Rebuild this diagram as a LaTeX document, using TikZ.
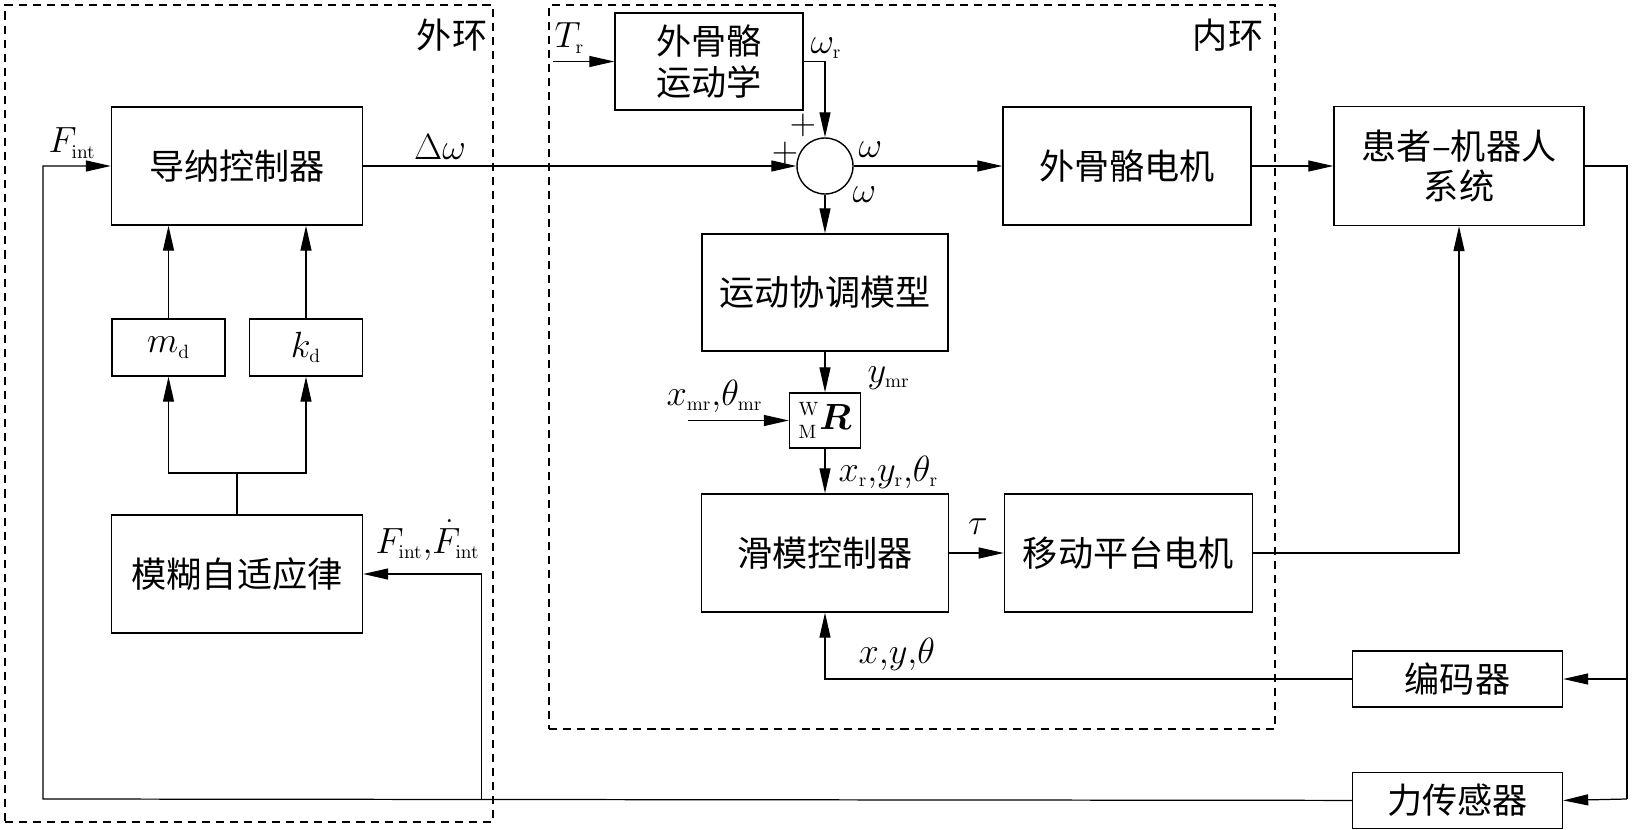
\documentclass[tikz,border=0pt]{standalone}
\usepackage{amsmath}
\usepackage[no-math]{fontspec}
\setmainfont{Noto Sans CJK SC}
\DeclareMathSizes{22}{22}{11}{9}
\usepackage{tikz}
\usetikzlibrary{positioning, arrows.meta}

\begin{document}
\begin{tikzpicture}[
    >={Triangle[length=5mm, width=2.2mm]},
    line width=0.7pt,
    font=\fontsize{20}{23}\selectfont,
    box/.style={rectangle, draw, line width=0.8pt, minimum height=2.36cm, inner sep=0pt, align=center},
    small/.style={rectangle, draw, line width=0.8pt, inner sep=0pt},
    loopbox/.style={rectangle, draw, line width=0.8pt, dash pattern=on 4.6pt off 3.4pt, inner sep=0pt},
    lbl/.style={inner sep=0pt, font=\fontsize{22}{24}\selectfont}
]
    \useasboundingbox (0,0) rectangle (32.68,-16.6);
    % Outer and inner loops
    \node[loopbox, minimum width=9.76cm, minimum height=16.34cm] (outer) at (4.98,-8.27) {};
    \node[loopbox, minimum width=14.52cm, minimum height=14.48cm] (inner) at (18.24,-7.34) {};
    \node (outlbl) at (9.04,-0.70) {外环};
    \node (inlbl) at (24.56,-0.70) {内环};
    % Outer loop blocks
    \node[box, minimum width=5.02cm] (adm) at (4.74,-3.32) {导纳控制器};
    \node[small, minimum width=2.26cm, minimum height=1.14cm, font=\fontsize{22}{24}\selectfont] (md) at (3.37,-6.95) {$m_{\mathrm{d}}$};
    \node[small, minimum width=2.26cm, minimum height=1.14cm, font=\fontsize{22}{24}\selectfont] (kd) at (6.12,-6.95) {$k_{\mathrm{d}}$};
    \node[box, minimum width=5.02cm] (fuzzy) at (4.74,-11.48) {模糊自适应律};
    % Inner loop blocks
    \node[box, minimum width=3.76cm, minimum height=1.94cm] (kin) at (14.18,-1.23) {外骨骼\\运动学};
    \node[circle, draw, line width=0.8pt, minimum size=1.12cm, inner sep=0pt] (sum) at (16.5,-3.32) {};
    \node[box, minimum width=4.96cm] (motor) at (22.54,-3.32) {外骨骼电机};
    \node[box, minimum width=4.92cm, minimum height=2.34cm] (coord) at (16.5,-5.85) {运动协调模型};
    \node[small, minimum width=1.42cm, minimum height=1.1cm, font=\fontsize{22}{24}\selectfont] (rot) at (16.5,-8.41) {${}^{\mathrm{W}}_{\mathrm{M}}\boldsymbol{R}$};
    \node[box, minimum width=4.94cm] (smc) at (16.5,-11.06) {滑模控制器};
    \node[box, minimum width=4.96cm, right=1.09cm of smc] (plat) {移动平台电机};
    % Plant and sensors
    \node[box, minimum width=5cm, minimum height=2.38cm] (sys) at (29.18,-3.32) {患者–机器人\\系统};
    \node[small, minimum width=4.2cm, minimum height=1.12cm] (enc) at (29.15,-13.58) {编码器};
    \node[small, minimum width=4.2cm, minimum height=1.12cm, below=1.28cm of enc] (force) {力传感器};
    % Branch points
    \coordinate (trin) at (11.06,-1.23);
    \coordinate (xin) at (13.76,-8.41);
    \coordinate (br) at (4.74,-9.46);
    \coordinate (rbot) at (32.54,-15.98);
    \coordinate (lbot) at (0.86,-15.98);
    \coordinate (fj) at (9.63,-15.98);
    % Forward path
    \draw[->] (trin) -- (kin.west);
    \draw[->] (kin.east) -| (sum.north);
    \draw[->] (adm.east) -- (sum.west);
    \draw[->] (sum.east) -- (motor.west);
    \draw[->] (motor.east) -- (sys.west);
    \draw[->] (sum.south) -- (coord.north);
    \draw[->] (coord.south) -- (rot.north);
    \draw[->] (xin) -- (rot.west);
    \draw[->] (rot.south) -- (smc.north);
    \draw[->] (smc.east) -- (plat.west);
    \draw[->] (plat.east) -| (sys.south);
    % Feedback
    \draw (sys.east) -| (rbot);
    \draw[->] (rbot |- enc.east) -- (enc.east);
    \draw[->] (rbot) -- (force.east);
    \draw[->] (enc.west) -| (smc.south);
    \draw[->] (force.west) -- (lbot) |- (adm.west);
    \draw[->] (fj) |- (fuzzy.east);
    \draw (fuzzy.north) -- (br);
    \draw[->] (br) -| (md.south);
    \draw[->] (br) -| (kd.south);
    \draw[->] (md.north) -- (md.north |- adm.south);
    \draw[->] (kd.north) -- (kd.north |- adm.south);
    % Signal labels
    \node[lbl, anchor=west] (tr) at (11.08,-0.76) {$T_{\mathrm{r}}$};
    \node[lbl, anchor=west] (wr) at (16.2,-0.96) {$\omega_{\mathrm{r}}$};
    \node[lbl] (p1) at (16.06,-2.50) {$+$};
    \node[lbl] (p2) at (15.70,-3.06) {$+$};
    \node[lbl, anchor=west] (w1) at (17.16,-3.00) {$\omega$};
    \node[lbl, anchor=west] (w2) at (17.04,-3.90) {$\omega$};
    \node[lbl] (dw) at (8.80,-2.94) {$\Delta\omega$};
    \node[lbl, anchor=west] (fint) at (0.96,-2.86) {$F_{\mathrm{int}}$};
    \node[lbl, anchor=west] (fdot) at (7.50,-10.80) {$F_{\mathrm{int}}{,}\dot{F}_{\mathrm{int}}$};
    \node[lbl, anchor=west] (ymr) at (17.34,-7.56) {$y_{\mathrm{mr}}$};
    \node[lbl, anchor=east] (xmr) at (15.26,-7.92) {$x_{\mathrm{mr}}{,}\theta_{\mathrm{mr}}$};
    \node[lbl, anchor=west] (xr) at (16.76,-9.44) {$x_{\mathrm{r}}{,}y_{\mathrm{r}}{,}\theta_{\mathrm{r}}$};
    \node[lbl] (tau) at (19.56,-10.54) {$\tau$};
    \node[lbl, anchor=west] (xyt) at (17.16,-13.08) {$x{,}y{,}\theta$};
\end{tikzpicture}
\end{document}
